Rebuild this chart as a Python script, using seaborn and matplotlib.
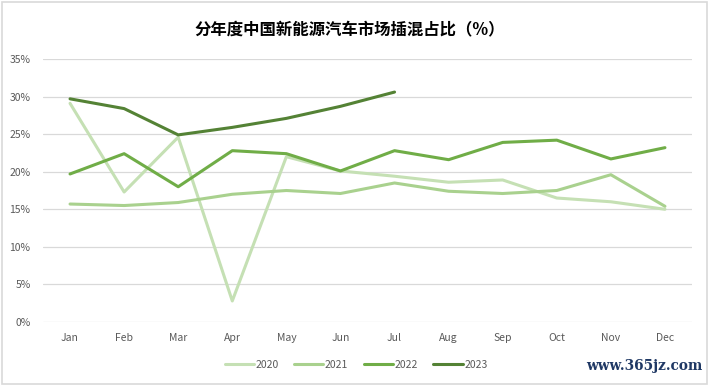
import numpy as np
import pandas as pd
import matplotlib.pyplot as plt
import seaborn as sns
from matplotlib.lines import Line2D
from matplotlib.patches import Rectangle

# ------------------------------
# Data (share of plug-in hybrids, %)
# ------------------------------
months = ["Jan", "Feb", "Mar", "Apr", "May", "Jun",
          "Jul", "Aug", "Sep", "Oct", "Nov", "Dec"]
y2020 = [29.1, 17.3, 24.6, 2.8, 22.0, 20.1, 19.4, 18.6, 18.9, 16.5, 16.0, 15.0]
y2021 = [15.7, 15.5, 15.9, 17.0, 17.5, 17.1, 18.5, 17.4, 17.1, 17.5, 19.6, 15.4]
y2022 = [19.7, 22.4, 18.0, 22.8, 22.4, 20.1, 22.8, 21.6, 23.9, 24.2, 21.7, 23.2]
y2023 = [29.7, 28.4, 24.9, 25.9, 27.1, 28.7, 30.6]
years = ["2020", "2021", "2022", "2023"]
colors = ["#c5e0b4", "#a9d18e", "#70ad47", "#548235"]

rows = []
for yr, vals in zip(years, [y2020, y2021, y2022, y2023]):
    for i, v in enumerate(vals):
        rows.append({"month": i, "share": v, "year": yr})
df = pd.DataFrame(rows)

# ------------------------------
# Plot
# ------------------------------
sns.set_style("white")
plt.rcParams["font.family"] = ["Noto Sans CJK SC", "DejaVu Sans"]

fig = plt.figure(figsize=(7.1, 3.86), dpi=100)
ax = fig.add_axes([43 / 710, 1 - 322 / 386, 649 / 710, 263 / 386])

sns.lineplot(data=df, x="month", y="share", hue="year", palette=colors,
             linewidth=2.2, ax=ax, legend=False)

ax.set_xlim(-0.5, 11.5)
ax.set_ylim(0, 35)
ax.set_yticks(range(0, 36, 5))
ax.set_yticklabels([f"{t}%" for t in range(0, 36, 5)])
ax.set_xticks(range(12))
ax.set_xticklabels(months)
ax.tick_params(axis="both", length=0, labelsize=7.5, labelcolor="#595959")
ax.tick_params(axis="x", pad=8)
ax.tick_params(axis="y", pad=9)
ax.set_xlabel("")
ax.set_ylabel("")
ax.grid(axis="y", color="#d9d9d9", linewidth=0.9)
ax.set_axisbelow(True)
for s in ax.spines.values():
    s.set_visible(False)

fig.text(350 / 710, 1 - 30 / 386, "分年度中国新能源汽车市场插混占比（%）",
         ha="center", va="center", fontsize=11.8, fontweight="bold",
         color="#000000")

handles = [Line2D([], [], color=c, linewidth=2.2) for c in colors]
fig.legend(handles, years, loc="center", bbox_to_anchor=(356 / 710, 1 - 365 / 386),
           ncol=4, frameon=False, fontsize=7.5, labelcolor="#595959",
           handlelength=2.8, handletextpad=0.15, columnspacing=1.5)

fig.text(703 / 710, 1 - 366 / 386, "www.365jz.com", ha="right", va="center",
         fontsize=9.8, fontweight="bold", family="DejaVu Serif", color="#1f3864")

fig.patches.append(Rectangle((2 / 710, 2 / 386), 705 / 710, 382 / 386,
                             transform=fig.transFigure, fill=False,
                             edgecolor="#d9d9d9", linewidth=1.2))

fig.savefig("out.png", dpi=100)
